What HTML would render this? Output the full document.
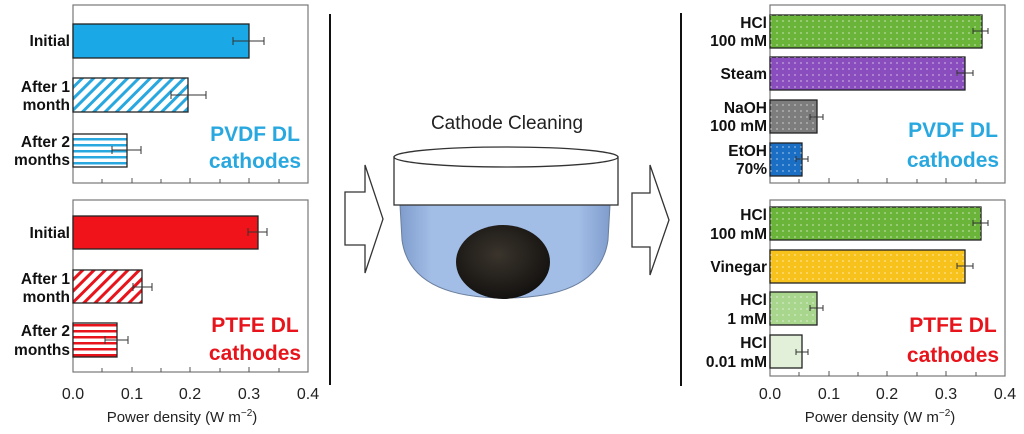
<!DOCTYPE html>
<html><head><meta charset="utf-8"><style>
html,body{margin:0;padding:0;background:#fff;width:1024px;height:434px;overflow:hidden}
text{font-family:"Liberation Sans",Arial,sans-serif}
.lb{font-weight:bold;font-size:15.5px;fill:#111;text-anchor:end}
.tk{font-size:16px;fill:#222;text-anchor:middle}
.ax{font-size:15px;fill:#222;text-anchor:middle}
.big{font-weight:bold;font-size:21px;text-anchor:middle}
.bar{stroke:#222;stroke-width:1.3}
.err{stroke:#333;stroke-width:1}
</style></head><body>
<svg width="1024" height="434" viewBox="0 0 1024 434" xmlns="http://www.w3.org/2000/svg">
<defs>
<pattern id="bdiag" width="8" height="8" patternUnits="userSpaceOnUse" patternTransform="rotate(45)"><rect width="8" height="8" fill="#fff"/><rect width="3" height="8" fill="#29a8e0"/></pattern>
<pattern id="bhor" width="6" height="6" patternUnits="userSpaceOnUse"><rect width="6" height="6" fill="#fff"/><rect width="6" height="2.5" fill="#29a8e0"/></pattern>
<pattern id="rdiag" width="8" height="8" patternUnits="userSpaceOnUse" patternTransform="rotate(45)"><rect width="8" height="8" fill="#fff"/><rect width="3" height="8" fill="#e8141b"/></pattern>
<pattern id="rhor" width="6" height="6" patternUnits="userSpaceOnUse"><rect width="6" height="6" fill="#fff"/><rect width="6" height="2.5" fill="#e8141b"/></pattern>
<pattern id="dots" width="6" height="6" patternUnits="userSpaceOnUse"><circle cx="3" cy="3" r="0.9" fill="#fff" fill-opacity="0.5"/></pattern>
<radialGradient id="disk" cx="0.45" cy="0.4" r="0.6"><stop offset="0" stop-color="#3a342c"/><stop offset="1" stop-color="#141210"/></radialGradient>
<linearGradient id="bowl" x1="0" x2="1"><stop offset="0" stop-color="#7f9ccc"/><stop offset="0.15" stop-color="#a2bde6"/><stop offset="0.85" stop-color="#a2bde6"/><stop offset="1" stop-color="#7f9ccc"/></linearGradient>
</defs>

<rect x="73" y="5" width="235" height="178" fill="#fff" stroke="#777" stroke-width="1.2"/>
<rect x="73" y="200" width="235" height="172" fill="#fff" stroke="#777" stroke-width="1.2"/>
<g stroke="#555" stroke-width="1">
<path d="M102 183v-4M132 183v-5M161 183v-4M190 183v-5M220 183v-4M249 183v-5M279 183v-4"/>
<path d="M102 372v-4M132 372v-5M161 372v-4M190 372v-5M220 372v-4M249 372v-5M279 372v-4"/>
</g>
<rect class="bar" x="73" y="24" width="176" height="34" fill="#1aa9e6"/>
<rect class="bar" x="73" y="78" width="115" height="34" fill="url(#bdiag)"/>
<rect class="bar" x="73" y="134" width="54" height="33" fill="url(#bhor)"/>
<g class="err"><path d="M233 41h31M233 37v8M264 37v8M171 95h35M171 91v8M206 91v8M112 150h29M112 146v8M141 146v8"/></g>
<text class="lb" x="70" y="46">Initial</text>
<text class="lb" x="70" y="92">After 1</text><text class="lb" x="70" y="110">month</text>
<text class="lb" x="70" y="147">After 2</text><text class="lb" x="70" y="165">months</text>
<text class="big" x="255" y="141" fill="#29a8e0">PVDF DL</text>
<text class="big" x="255" y="168" fill="#29a8e0">cathodes</text>

<rect class="bar" x="73" y="216" width="185" height="33" fill="#f0141a"/>
<rect class="bar" x="73" y="270" width="69" height="33" fill="url(#rdiag)"/>
<rect class="bar" x="73" y="323" width="44" height="34" fill="url(#rhor)"/>
<g class="err"><path d="M248 232h19M248 228v8M267 228v8M133 287h19M133 283v8M152 283v8M105 340h23M105 336v8M128 336v8"/></g>
<text class="lb" x="70" y="238">Initial</text>
<text class="lb" x="70" y="284">After 1</text><text class="lb" x="70" y="302">month</text>
<text class="lb" x="70" y="336">After 2</text><text class="lb" x="70" y="355">months</text>
<text class="big" x="255" y="332" fill="#e8141b">PTFE DL</text>
<text class="big" x="255" y="360" fill="#e8141b">cathodes</text>

<text class="tk" x="73" y="399">0.0</text><text class="tk" x="132" y="399">0.1</text><text class="tk" x="190" y="399">0.2</text><text class="tk" x="249" y="399">0.3</text><text class="tk" x="308" y="399">0.4</text>
<text class="ax" x="182" y="422">Power density (W m<tspan dy="-6" font-size="10">−2</tspan><tspan dy="6">)</tspan></text>

<line x1="330" y1="14" x2="330" y2="385" stroke="#111" stroke-width="2"/>
<line x1="681" y1="13" x2="681" y2="386" stroke="#111" stroke-width="2"/>

<text x="507" y="129" font-size="19" fill="#222" text-anchor="middle">Cathode Cleaning</text>
<path d="M345 192h20v-27l18 54l-18 54v-28h-20z" fill="#fff" stroke="#333" stroke-width="1.3"/>
<path d="M632 193h18v-28l19 55l-19 55v-28h-18z" fill="#fff" stroke="#333" stroke-width="1.3"/>
<path d="M400 205 L610 205 L608 240 Q600 298 505 298 Q410 298 402 240 Z" fill="url(#bowl)" stroke="#6a7f9e" stroke-width="1"/>
<ellipse cx="503" cy="262" rx="47" ry="37" fill="url(#disk)"/>
<rect x="394" y="157" width="224" height="48" fill="#fff" stroke="#333" stroke-width="1.3"/>
<ellipse cx="506" cy="157" rx="112" ry="10" fill="#fff" stroke="#333" stroke-width="1.3"/>

<rect x="770" y="5" width="235" height="178" fill="#fff" stroke="#777" stroke-width="1.2"/>
<rect x="770" y="200" width="235" height="176" fill="#fff" stroke="#777" stroke-width="1.2"/>
<g stroke="#555" stroke-width="1">
<path d="M799 183v-4M829 183v-5M858 183v-4M887 183v-5M917 183v-4M946 183v-5M976 183v-4"/>
<path d="M799 376v-4M829 376v-5M858 376v-4M887 376v-5M917 376v-4M946 376v-5M976 376v-4"/>
</g>
<rect class="bar" x="770" y="15" width="212" height="33" fill="#6ab43a"/><rect x="770" y="15" width="212" height="33" fill="url(#dots)"/>
<rect class="bar" x="770" y="57" width="195" height="33" fill="#8a4dbd"/><rect x="770" y="57" width="195" height="33" fill="url(#dots)"/>
<rect class="bar" x="770" y="100" width="47" height="33" fill="#7d7d7d"/><rect x="770" y="100" width="47" height="33" fill="url(#dots)"/>
<rect class="bar" x="770" y="143" width="32" height="33" fill="#1a6fc4"/><rect x="770" y="143" width="32" height="33" fill="url(#dots)"/>
<g class="err"><path d="M973 31h15M973 28v6M988 28v6M957 73h16M957 70v6M973 70v6M810 117h13M810 114v6M823 114v6M796 159h12M796 156v6M808 156v6"/></g>
<text class="lb" x="767" y="28">HCl</text><text class="lb" x="767" y="46">100 mM</text>
<text class="lb" x="767" y="79">Steam</text>
<text class="lb" x="767" y="113">NaOH</text><text class="lb" x="767" y="131">100 mM</text>
<text class="lb" x="767" y="156">EtOH</text><text class="lb" x="767" y="174">70%</text>
<text class="big" x="953" y="137" fill="#29a8e0">PVDF DL</text>
<text class="big" x="953" y="167" fill="#29a8e0">cathodes</text>

<rect class="bar" x="770" y="207" width="211" height="33" fill="#6ab43a"/><rect x="770" y="207" width="211" height="33" fill="url(#dots)"/>
<rect class="bar" x="770" y="250" width="195" height="33" fill="#f7c21c"/><rect x="770" y="250" width="195" height="33" fill="url(#dots)"/>
<rect class="bar" x="770" y="292" width="47" height="33" fill="#a8d68c"/><rect x="770" y="292" width="47" height="33" fill="url(#dots)"/>
<rect class="bar" x="770" y="335" width="32" height="33" fill="#e2f0d9"/>
<g class="err"><path d="M973 223h15M973 220v6M988 220v6M957 266h16M957 263v6M973 263v6M810 308h13M810 305v6M823 305v6M796 352h12M796 349v6M808 349v6"/></g>
<text class="lb" x="767" y="220">HCl</text><text class="lb" x="767" y="239">100 mM</text>
<text class="lb" x="767" y="272">Vinegar</text>
<text class="lb" x="767" y="305">HCl</text><text class="lb" x="767" y="324">1 mM</text>
<text class="lb" x="767" y="348">HCl</text><text class="lb" x="767" y="367">0.01 mM</text>
<text class="big" x="953" y="332" fill="#e8141b">PTFE DL</text>
<text class="big" x="953" y="362" fill="#e8141b">cathodes</text>

<text class="tk" x="770" y="399">0.0</text><text class="tk" x="829" y="399">0.1</text><text class="tk" x="887" y="399">0.2</text><text class="tk" x="946" y="399">0.3</text><text class="tk" x="1005" y="399">0.4</text>
<text class="ax" x="880" y="422">Power density (W m<tspan dy="-6" font-size="10">−2</tspan><tspan dy="6">)</tspan></text>
</svg>
</body></html>
